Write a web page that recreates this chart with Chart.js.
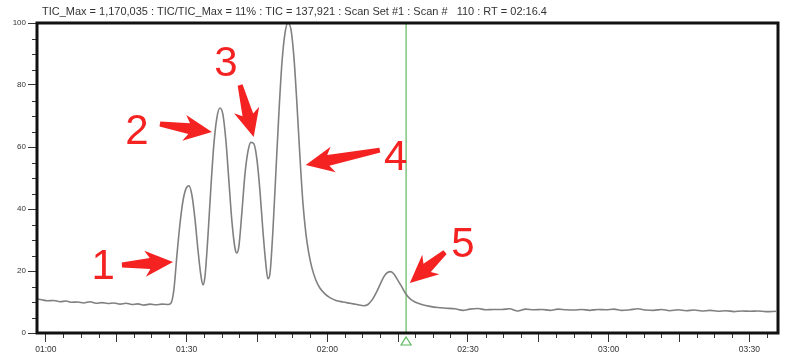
<!DOCTYPE html>
<html><head><meta charset="utf-8">
<script src="https://cdn.jsdelivr.net/npm/chart.js@4/dist/chart.umd.min.js"></script>
<style>html,body{margin:0;padding:0;background:#fff}#wrap{width:788px;height:360px}</style>
</head><body><div id="wrap"><canvas id="c" width="788" height="360"></canvas></div>
<script>
const titleText = "TIC_Max = 1,170,035 : TIC/TIC_Max = 11% : TIC = 137,921 : Scan Set #1 : Scan #   110 : RT = 02:16.4";

// retention time (seconds)
const times = [
 58.1,59.1,60.4,61.7,63.0,64.3,65.5,66.8,68.1,69.4,70.7,71.9,73.2,74.5,75.8,77.1,78.3,79.6,80.9,82.2,83.5,84.7,86.0,86.65,
 87.29,87.93,88.57,89.21,89.85,90.49,91.13,91.77,92.41,93.05,93.48,93.90,94.54,95.18,95.82,96.46,97.10,97.74,98.38,99.02,99.66,100.30,100.72,
 101.15,101.79,102.43,103.07,103.71,104.35,104.99,105.63,106.27,106.91,107.33,107.76,108.40,109.04,109.68,110.32,110.96,111.60,112.24,112.88,
 113.52,114.16,114.80,115.44,116.08,116.72,117.57,118.42,119.49,120.55,121.83,123.33,124.82,126.31,127.80,128.66,129.51,130.36,131.22,132.07,
 132.92,133.56,134.20,135.05,135.91,136.76,137.61,138.68,140.17,141.88,143.58,145.29,
 147.2,148.9,150.4,152.1,153.8,155.5,157.2,158.9,160.6,162.3,164.1,165.8,167.5,169.2,170.9,172.6,174.3,176.0,177.7,179.4,181.1,182.8,
 184.5,186.2,187.9,189.6,191.3,193.0,194.8,196.5,198.2,199.9,201.6,203.3,205.0,206.7,208.4,210.1,211.8,213.5,215.7
];
// relative abundance (%)
const intensity = [
 11.0,10.7,10.4,10.5,10.1,10.3,9.9,10.0,9.7,10.1,9.6,9.8,9.5,9.7,9.3,9.6,9.2,9.4,9.0,9.3,9.1,9.3,9.2,9.6,
 14,25,35,42.5,46.5,47.5,44.5,37,27,18.5,15.5,18,31,47,61,69.5,72.6,70.5,62,49,36,27.5,25.8,
 28,39,51,58.5,61.5,61,56,46,33,22,17.5,19,33,52,71,87,96.5,100,98,89,
 74,57,42,32,25.5,21,17,14.5,12.6,11.4,10.5,10.0,9.6,9.2,8.8,9.2,10.6,12.8,15.5,18.2,
 19.6,19.8,19.0,17.0,14.8,12.6,11.1,10.0,9.2,8.6,8.2,8.0,
 7.8,7.3,7.7,7.9,7.5,7.6,7.6,7.8,7.1,7.7,7.5,7.6,7.3,7.7,7.5,7.4,7.6,7.3,7.6,7.5,7.7,7.3,
 7.5,7.8,7.4,7.3,7.6,7.2,7.5,7.2,7.4,7.1,7.3,7.0,7.2,6.9,7.1,7.0,7.1,6.9,7.0
];

const xTickValues = [60, 90, 120, 150, 180, 210];
const xTickLabels = ["01:00", "01:30", "02:00", "02:30", "03:00", "03:30"];
const yTickValues = [0, 20, 40, 60, 80, 100];
const yTickLabels = ["0", "20", "40", "60", "80", "100"];
const cursorTime = 136.8;

// peak annotations (data coordinates: time, abundance)
const peakLabels = ["1", "2", "3", "4", "5"];
const arrowTips  = [[87.1, 22.9], [95.4, 64.8], [104.3, 63.2], [115.4, 54.2], [137.6, 16.1]];
const arrowTails = [[76.2, 21.9], [84.3, 67.4], [101.4, 80.0], [131.2, 59.0], [145.1, 26.1]];
const labelPos   = [[72.2, 21.9], [79.4, 65.5], [98.4, 87.4], [134.6, 56.8], [148.9, 29.0]];

const deco = {
  id: 'deco',
  beforeDatasetsDraw(chart) {
    const {ctx, chartArea: a, scales: {x, y}} = chart;
    const cx = x.getPixelForValue(cursorTime);
    ctx.save();
    ctx.strokeStyle = '#5db85d';
    ctx.lineWidth = 1.2;
    ctx.beginPath(); ctx.moveTo(cx, a.top); ctx.lineTo(cx, a.bottom); ctx.stroke();
    ctx.beginPath(); ctx.moveTo(cx, a.bottom + 4); ctx.lineTo(cx + 5, a.bottom + 12); ctx.lineTo(cx - 5, a.bottom + 12); ctx.closePath();
    ctx.stroke();
    ctx.restore();
  },
  afterDraw(chart) {
    const {ctx, chartArea: a, scales: {x, y}} = chart;
    ctx.save();
    // minor ticks
    ctx.strokeStyle = '#333'; ctx.lineWidth = 1;
    ctx.beginPath();
    for (let t = 60; t <= x.max + 1e-6; t += 3.75) {
      const px = Math.round(x.getPixelForValue(t)) + 0.5;
      const isMajor = Math.abs((t - 60) % 30) < 1e-6;
      if (isMajor) continue;
      const isMed = Math.abs((t - 60) % 15) < 1e-6;
      ctx.moveTo(px, a.bottom); ctx.lineTo(px, a.bottom + (isMed ? 9 : 5));
    }
    for (let v = 5; v < 100; v += 5) {
      if (v % 20 === 0) continue;
      const py = Math.round(y.getPixelForValue(v)) + 0.5;
      ctx.moveTo(a.left, py); ctx.lineTo(a.left - 5, py);
    }
    ctx.stroke();
    // frame
    ctx.strokeStyle = '#111'; ctx.lineWidth = 3;
    ctx.strokeRect(a.left, a.top, a.right - a.left, a.bottom - a.top);
    // title
    ctx.fillStyle = '#333';
    ctx.font = '10px "Liberation Sans", Arial, sans-serif';
    const w = ctx.measureText(titleText).width;
    const fs = 10 * 505 / w;
    ctx.font = fs.toFixed(2) + 'px "Liberation Sans", Arial, sans-serif';
    ctx.textBaseline = 'middle'; ctx.textAlign = 'left';
    ctx.fillText(titleText, 42, 12);
    // arrows
    ctx.fillStyle = '#f52222';
    for (let i = 0; i < peakLabels.length; i++) {
      const x0 = x.getPixelForValue(arrowTails[i][0]), y0 = y.getPixelForValue(arrowTails[i][1]);
      const x1 = x.getPixelForValue(arrowTips[i][0]),  y1 = y.getPixelForValue(arrowTips[i][1]);
      const dx = x1 - x0, dy = y1 - y0, L = Math.hypot(dx, dy);
      const ux = dx / L, uy = dy / L, nx = -uy, ny = ux;
      const hl = 23, hw = 13, sw0 = 2.5, sw1 = 5.5;
      const bx = x1 - ux * hl, by = y1 - uy * hl;
      const bbx = bx - ux * 5, bby = by - uy * 5;
      ctx.beginPath();
      ctx.moveTo(x0 + nx * sw0, y0 + ny * sw0);
      ctx.lineTo(bx + nx * sw1, by + ny * sw1);
      ctx.lineTo(bbx + nx * hw, bby + ny * hw);
      ctx.lineTo(x1, y1);
      ctx.lineTo(bbx - nx * hw, bby - ny * hw);
      ctx.lineTo(bx - nx * sw1, by - ny * sw1);
      ctx.lineTo(x0 - nx * sw0, y0 - ny * sw0);
      ctx.closePath();
      ctx.fill();
      ctx.font = '42px "Liberation Sans", Arial, sans-serif';
      ctx.textAlign = 'center'; ctx.textBaseline = 'middle';
      ctx.fillText(peakLabels[i], x.getPixelForValue(labelPos[i][0]), y.getPixelForValue(labelPos[i][1]) + 2);
    }
    ctx.restore();
  }
};

new Chart(document.getElementById('c'), {
  type: 'line',
  data: {
    datasets: [{
      data: times.map((t, i) => ({x: t, y: intensity[i]})),
      borderColor: '#808080',
      borderWidth: 1.6,
      pointRadius: 0,
      cubicInterpolationMode: 'monotone',
      fill: false
    }]
  },
  options: {
    responsive: false,
    animation: false,
    devicePixelRatio: 1,
    layout: {padding: {top: 23, right: 10, left: 0, bottom: 0}},
    plugins: {legend: {display: false}, tooltip: {enabled: false}, title: {display: false}},
    scales: {
      x: {
        type: 'linear', min: 58.1, max: 216.1,
        afterBuildTicks(s) { s.ticks = xTickValues.map(v => ({value: v})); },
        afterFit(s) { s.height = 27; },
        ticks: {
          autoSkip: false, maxRotation: 0, padding: 3,
          color: '#333', font: {size: 8.5, family: '"Liberation Sans", Arial, sans-serif'},
          callback: (v) => xTickLabels[xTickValues.indexOf(v)]
        },
        grid: {drawOnChartArea: false, drawTicks: true, tickLength: 9, color: '#333', lineWidth: 1},
        border: {display: false}
      },
      y: {
        min: 0, max: 100,
        afterBuildTicks(s) { s.ticks = yTickValues.map(v => ({value: v})); },
        afterFit(s) { s.width = 37; },
        ticks: {
          padding: 2, color: '#333', font: {size: 8, family: '"Liberation Sans", Arial, sans-serif'},
          callback: (v) => yTickLabels[yTickValues.indexOf(v)]
        },
        grid: {drawOnChartArea: false, drawTicks: true, tickLength: 9, color: '#333', lineWidth: 1},
        border: {display: false}
      }
    }
  },
  plugins: [deco]
});
</script>
</body></html>
